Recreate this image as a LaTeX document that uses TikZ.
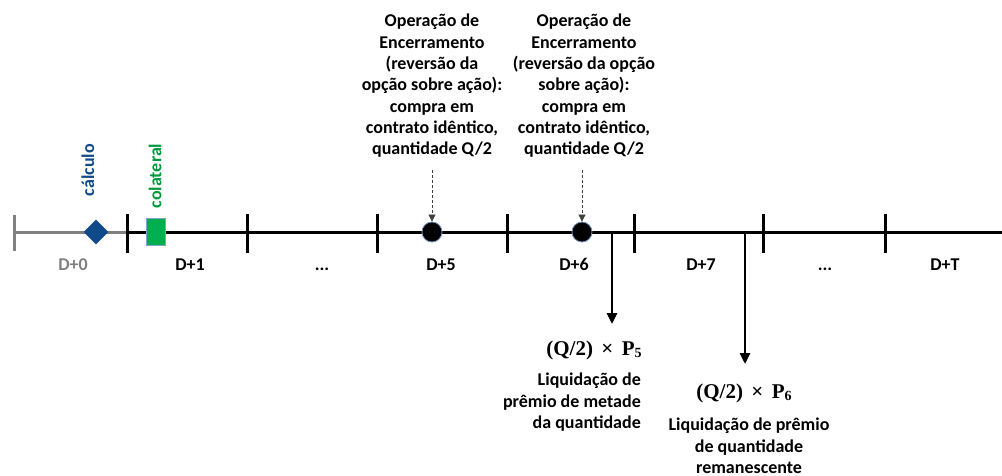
\documentclass[tikz,border=0pt]{standalone}
\usepackage[no-math]{fontspec}
\setmainfont{Carlito}
\newfontfamily\fmlfont{Liberation Serif}
\usetikzlibrary{arrows.meta,shapes.geometric}
\definecolor{dblue}{HTML}{0E4A8A}
\definecolor{cgreen}{HTML}{00B050}
\definecolor{tgreen}{HTML}{009A3E}
\definecolor{tgray}{HTML}{808080}
\newcommand{\myfa}{(Q/2)\hspace{0.4em}×\hspace{0.4em}P\raisebox{-0.3ex}{\fontsize{14}{14}\selectfont 5}}
\newcommand{\myfb}{(Q/2)\hspace{0.4em}×\hspace{0.4em}P\raisebox{-0.3ex}{\fontsize{14}{14}\selectfont 6}}
\tikzset{
  lbl/.style={font=\fontsize{18}{21.3}\selectfont\bfseries, inner sep=0pt, align=center},
  per/.style={lbl, anchor=base},
  fml/.style={font=\fontmlfont, inner sep=0pt},
  tick/.style={line width=3pt},
  tl/.style={line width=3pt},
  dasharrow/.style={densely dashed, line width=0.7pt, draw=black!75, -{Triangle[length=7pt,width=7pt]}},
  payarrow/.style={line width=2.6pt, -{Triangle[length=11pt,width=10pt]}},
  evt/.style={circle, fill=black, draw=dblue!60, line width=0.8pt, minimum size=20pt, inner sep=0pt},
}
\newcommand{\fontmlfont}{\fmlfont\fontsize{21}{22}\selectfont\bfseries}
\begin{document}
\begin{tikzpicture}[x=1pt,y=-1pt]
\useasboundingbox (0,0) rectangle (1002,476);
% gray segment
\coordinate (g0) at (14,232);
\coordinate (t1) at (127,232);
\coordinate (tend) at (1002,232);
\draw[tgray, tl] (g0) -- (t1);
\draw[tgray, tick] (14,215) -- (14,251);
\draw[tl] (t1) -- (tend);
\foreach \x in {127,247,377,507,634,763,885} \draw[tick] (\x,214) -- (\x,253);
% markers
\node[diamond, fill=dblue, minimum width=25pt, minimum height=25pt, inner sep=0pt] (calc) at (96,232) {};
\node[rectangle, fill=cgreen, draw=dblue!50, line width=0.8pt, minimum width=19pt, minimum height=27pt, inner sep=0pt] (col) at (156,232) {};
\node[lbl, rotate=90, text=dblue] (calcl) at (88,170) {cálculo};
\node[lbl, rotate=90, text=tgreen] (coll) at (155,176) {colateral};
% event circles
\node[evt] (e5) at (432,232) {};
\node[evt] (e6) at (582,232) {};
% period labels
\node[per, text=tgray] (d0) at (73,270) {D+0};
\node[per] (d1) at (190,270) {D+1};
\node[per] (dd1) at (322,270) {...};
\node[per] (d5) at (441,270) {D+5};
\node[per] (d6) at (574,270) {D+6};
\node[per] (d7) at (701,270) {D+7};
\node[per] (dd2) at (825,270) {...};
\node[per] (dT) at (945,270) {D+T};
% top texts
\node[lbl] (op1) at (432,86) {Operação de\\Encerramento\\(reversão da\\opção sobre ação):\\compra em\\contrato idêntico,\\quantidade Q/2};
\node[lbl] (op2) at (584,86) {Operação de\\Encerramento\\(reversão da opção\\sobre ação):\\compra em\\contrato idêntico,\\quantidade Q/2};
\coordinate (a5) at (432,170);
\coordinate (a6) at (582,170);
\draw[dasharrow] (a5) -- (e5.north);
\draw[dasharrow] (a6) -- (e6.north);
% payment arrows
\coordinate (p5s) at (612,232);
\coordinate (p5e) at (612,324);
\coordinate (p6s) at (745,232);
\coordinate (p6e) at (745,364);
\draw[payarrow] (p5s) -- (p5e);
\draw[payarrow] (p6s) -- (p6e);
\node[fml] (f5) at (594,350) {\myfa};
\node[fml] (f6) at (744,393) {\myfb};
\node[lbl, align=right, anchor=north east] (l5) at (641,373) {Liquidação de\\prêmio de metade\\da quantidade};
\node[lbl, anchor=north] (l6) at (749,418) {Liquidação de prêmio\\de quantidade\\remanescente};
\end{tikzpicture}
\end{document}
